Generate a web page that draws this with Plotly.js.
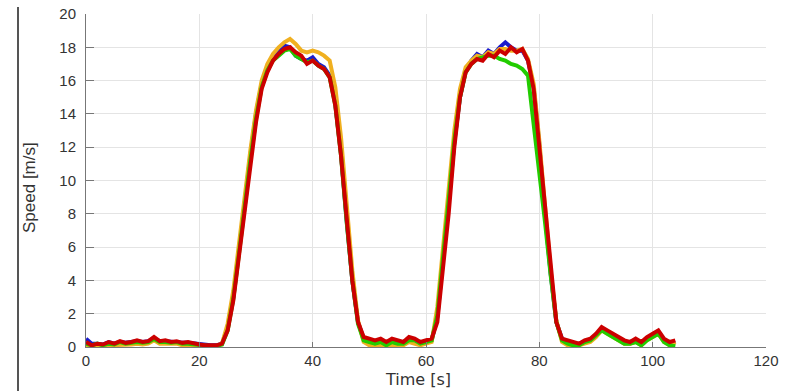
<!DOCTYPE html>
<html><head><meta charset="utf-8">
<script src="https://cdn.plot.ly/plotly-3.0.1.min.js"></script>
<style>html,body{margin:0;padding:0;background:#fff}#c{width:790px;height:391px}</style>
</head><body><div id="c"></div>
<script>
// time in seconds, 1 s steps from 0 to 104
const timeS = Array.from({length:105},(_, i)=>i);
const seriesBlue = [0.5,0.2,0.2,0.15,0.3,0.2,0.3,0.25,0.3,0.35,0.3,0.35,0.5,0.35,0.35,0.3,0.3,0.25,0.25,0.2,0.15,0.1,0.1,0.1,0.2,1.1,3.0,5.8,8.8,11.5,14.0,15.8,16.8,17.4,17.8,18.1,18.0,17.5,17.3,17.2,17.4,17.0,16.8,16.3,14.6,11.6,7.6,4.0,1.5,0.5,0.3,0.2,0.3,0.1,0.2,0.2,0.2,0.4,0.3,0.2,0.3,0.4,1.8,5.0,8.6,12.3,15.0,16.6,17.2,17.6,17.4,17.8,17.6,18.0,18.3,18.0,17.8,17.8,17.2,15.6,12.2,8.0,4.4,1.5,0.5,0.3,0.2,0.2,0.3,0.4,0.7,1.1,0.9,0.7,0.5,0.3,0.3,0.4,0.2,0.5,0.7,0.9,0.4,0.2,0.3];
const seriesGreen = [0.2,0.1,0.2,0.1,0.2,0.15,0.3,0.2,0.25,0.3,0.25,0.3,0.5,0.3,0.3,0.25,0.3,0.2,0.2,0.15,0.1,0.1,0.05,0.05,0.15,1.0,2.9,5.6,8.6,11.2,13.7,15.6,16.6,17.2,17.5,17.8,17.9,17.5,17.3,17.1,17.2,16.9,16.7,16.2,14.5,11.5,7.5,4.0,1.4,0.4,0.3,0.2,0.3,0.1,0.3,0.2,0.2,0.4,0.4,0.2,0.3,0.4,1.9,5.2,8.8,12.4,15.0,16.5,17.0,17.3,17.4,17.5,17.5,17.3,17.2,17.0,16.9,16.7,16.3,13.5,10.5,7.5,4.3,1.5,0.4,0.2,0.1,0.1,0.3,0.4,0.7,1.0,0.8,0.6,0.4,0.2,0.2,0.3,0.1,0.4,0.6,0.8,0.3,0.1,0.05];
const seriesOrange = [0.1,0.05,0.1,0.05,0.1,0.1,0.15,0.1,0.15,0.2,0.15,0.2,0.4,0.2,0.2,0.15,0.2,0.1,0.1,0.1,0.05,0.05,0.05,0.05,0.2,1.4,3.4,6.2,9.2,11.8,14.2,16.0,17.0,17.6,18.0,18.3,18.5,18.2,17.8,17.7,17.8,17.7,17.5,17.2,15.6,12.6,8.6,4.6,1.6,0.3,0.1,0.1,0.1,0.05,0.1,0.1,0.1,0.3,0.2,0.1,0.2,0.3,2.4,6.0,9.6,13.0,15.5,16.8,17.2,17.5,17.4,17.7,17.6,17.9,17.9,17.8,17.8,17.9,17.3,15.8,12.4,8.2,4.6,1.6,0.3,0.1,0.1,0.1,0.2,0.3,0.6,1.0,0.8,0.6,0.4,0.2,0.2,0.3,0.1,0.4,0.6,0.8,0.3,0.1,0.3];
const seriesRed = [0.3,0.1,0.2,0.15,0.3,0.2,0.35,0.25,0.3,0.4,0.3,0.35,0.6,0.35,0.4,0.3,0.35,0.25,0.3,0.2,0.15,0.1,0.1,0.1,0.2,1.0,2.8,5.5,8.5,11.0,13.5,15.5,16.5,17.2,17.6,17.9,18.0,17.7,17.5,17.0,17.2,16.9,16.7,16.2,14.5,11.5,7.5,4.0,1.5,0.6,0.5,0.4,0.5,0.3,0.5,0.4,0.3,0.6,0.5,0.3,0.4,0.5,1.5,4.5,8.0,12.0,15.0,16.5,17.0,17.3,17.2,17.6,17.4,17.8,17.6,18.0,17.7,17.9,17.2,15.5,12.0,8.0,4.5,1.5,0.5,0.4,0.3,0.2,0.4,0.5,0.8,1.2,1.0,0.8,0.6,0.4,0.3,0.5,0.3,0.6,0.8,1.0,0.5,0.3,0.4];
const xTickVals = [0,20,40,60,80,100,120];
const yTickVals = [0,2,4,6,8,10,12,14,16,18,20];

function tr(y, color){
  return {x: timeS, y: y, type:'scatter', mode:'lines',
    line:{color:color, width:4}, hoverinfo:'skip', showlegend:false};
}
const data = [
  tr(seriesBlue,'#1a1acc'),
  tr(seriesOrange,'#f0b020'),
  tr(seriesGreen,'#22cc00'),
  tr(seriesRed,'#cc0000')
];
const axFont = {family:'Liberation Sans, Arial, sans-serif', size:15, color:'#333'};
const layout = {
  width:790, height:391,
  margin:{l:86, r:24, t:14, b:44},
  paper_bgcolor:'#fff', plot_bgcolor:'#fff',
  showlegend:false,
  xaxis:{range:[0,120], tickvals:xTickVals, ticktext:xTickVals.map(String),
    showgrid:true, gridcolor:'#e4e4e4', gridwidth:1, zeroline:false,
    showline:true, linecolor:'#777', linewidth:1, mirror:false,
    ticks:'inside', ticklen:5, tickcolor:'#777', tickfont:axFont},
  yaxis:{range:[0,20], tickvals:yTickVals, ticktext:yTickVals.map(String),
    showgrid:true, gridcolor:'#e4e4e4', gridwidth:1, zeroline:false,
    showline:true, linecolor:'#777', linewidth:1, ticklabelstandoff:6,
    ticks:'inside', ticklen:8, tickcolor:'#777', tickfont:axFont},
  annotations:[
    {text:'Time [s]', xref:'paper', yref:'paper', x:(418-86)/680, y:(347-379)/333,
     xanchor:'center', yanchor:'middle', showarrow:false,
     font:{family:'DejaVu Sans, Arial, sans-serif', size:16, color:'#333'}},
    {text:'Speed [m/s]', xref:'paper', yref:'paper', x:(29-86)/680, y:(347-188)/333,
     xanchor:'center', yanchor:'middle', showarrow:false, textangle:-90,
     font:{family:'Liberation Sans Narrow, Liberation Sans, Arial, sans-serif', size:17, color:'#333'}}
  ],
  shapes:[
    {type:'line', xref:'paper', yref:'paper', x0:(18-86)/680, x1:(18-86)/680,
     y0:(347-391)/333, y1:(347-7)/333, line:{color:'#555', width:2}}
  ]
};
Plotly.newPlot('c', data, layout, {displayModeBar:false, staticPlot:true});
</script></body></html>
